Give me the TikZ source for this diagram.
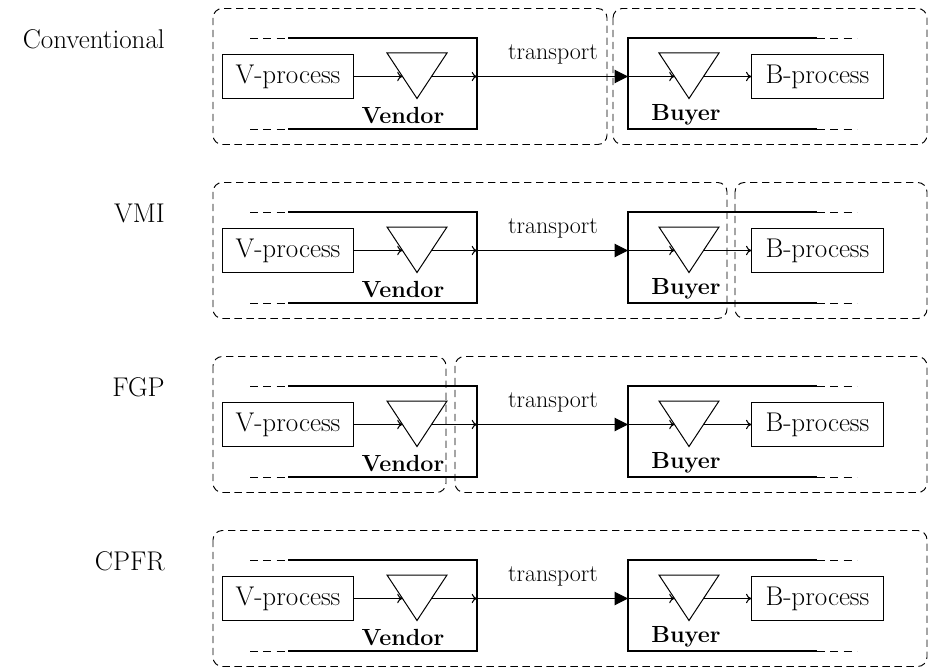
\documentclass[tikz,border=0pt]{standalone}
\usetikzlibrary{arrows.meta}
\begin{document}
\begin{tikzpicture}[x=0.75pt,y=-0.75pt,
  proc/.style={draw, line width=0.75pt, minimum width=98.5pt, minimum height=33pt, inner sep=0pt, font=\fontsize{20.3}{24}\selectfont},
  rowlab/.style={anchor=base east, inner sep=0pt, font=\fontsize{20.3}{24}\selectfont},
  tlab/.style={anchor=base, inner sep=0pt, font=\fontsize{18}{21}\selectfont},
  blab/.style={anchor=base, inner sep=0pt, font=\fontsize{17.5}{20}\selectfont\bfseries},
  frame/.style={line width=1.9pt},
  ext/.style={line width=0.6pt, dash pattern=on 6pt off 4pt},
  tri/.style={line width=0.75pt},
  arr/.style={line width=0.8pt, -{To[length=4pt,width=7pt]}},
  bigarr/.style={line width=0.8pt, -{Triangle[length=10pt,width=10pt]}},
  grp/.style={line width=0.7pt, dash pattern=on 5.5pt off 3.5pt, rounded corners=7pt}
]
\useasboundingbox (0,0) rectangle (928,667);
\foreach \Y/\lab [count=\r] in {76.5/Conventional,250.5/VMI,424.5/FGP,598.5/CPFR}{
  \node[rowlab] (lab\r) at (165,\Y-28) {\lab};
  \node[proc] (vp\r) at (288,\Y) {V-process};
  \node[proc] (bp\r) at (817.5,\Y) {B-process};
  % vendor frame
  \draw[ext] (250,\Y-38.5) -- (288,\Y-38.5);
  \draw[ext] (250,\Y+52.5) -- (288,\Y+52.5);
  \draw[frame] (288,\Y-38.5) -- (477,\Y-38.5) -- (477,\Y+52.5) -- (288,\Y+52.5);
  % buyer frame
  \draw[frame] (817,\Y-38.5) -- (628,\Y-38.5) -- (628,\Y+52.5) -- (817,\Y+52.5);
  \draw[ext] (817,\Y-38.5) -- (857,\Y-38.5);
  \draw[ext] (817,\Y+52.5) -- (857,\Y+52.5);
  % triangles
  \draw[tri] (387,\Y-23.5) -- (447,\Y-23.5) -- (417,\Y+22) -- cycle;
  \draw[tri] (659,\Y-23.5) -- (719,\Y-23.5) -- (689,\Y+22) -- cycle;
  \coordinate (vin\r) at (402.5,\Y);
  \coordinate (vout\r) at (431.5,\Y);
  \coordinate (bin\r) at (674.5,\Y);
  \coordinate (bout\r) at (703.5,\Y);
  \coordinate (vf\r) at (477,\Y);
  \coordinate (bf\r) at (628,\Y);
  \draw[arr] (vp\r) -- (vin\r);
  \draw[arr] (vout\r) -- (vf\r);
  \draw[bigarr] (vf\r) -- (bf\r);
  \draw[arr] (bf\r) -- (bin\r);
  \draw[arr] (bout\r) -- (bp\r);
  \node[tlab] (tr\r) at (553,\Y-17) {transport};
  \node[blab] (ven\r) at (403,\Y+46.5) {Vendor};
  \node[blab] (buy\r) at (686,\Y+43.5) {Buyer};
}
% groups
\draw[grp] (213,8.5) rectangle (607,144.5);
\draw[grp] (613,8.5) rectangle (927,144.5);
\draw[grp] (213,182.5) rectangle (727,318.5);
\draw[grp] (735,182.5) rectangle (927,318.5);
\draw[grp] (213,356.5) rectangle (446,492.5);
\draw[grp] (455,356.5) rectangle (927,492.5);
\draw[grp] (213,530.5) rectangle (927,666.5);
\end{tikzpicture}
\end{document}
